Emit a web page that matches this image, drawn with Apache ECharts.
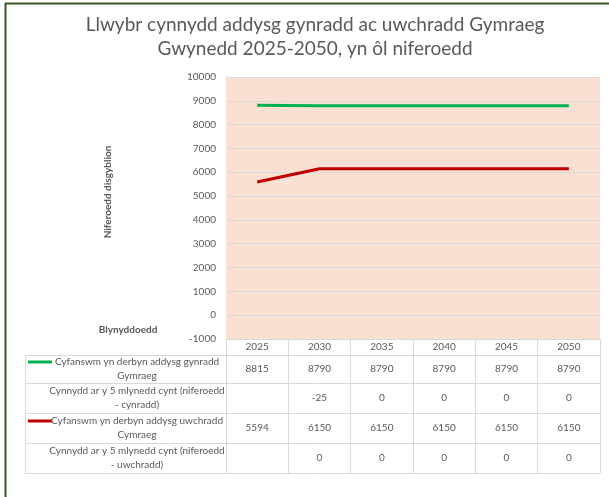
<!DOCTYPE html>
<html><head><meta charset="utf-8">
<script src="https://cdn.jsdelivr.net/npm/echarts@6/dist/echarts.min.js"></script>
<style>html,body{margin:0;padding:0;background:#fff}#c{width:609px;height:497px}</style>
</head><body><div id="c"></div>
<script>
// ---- data ----
const titleText = 'Llwybr cynnydd addysg gynradd ac uwchradd Gymraeg\nGwynedd 2025-2050, yn ôl niferoedd';
const yAxisTitle = 'Niferoedd disgyblion';
const xAxisTitle = 'Blynyddoedd';
const years = ['2025', '2030', '2035', '2040', '2045', '2050'];
const primaryName = 'Cyfanswm yn derbyn addysg gynradd\nGymraeg';
const primaryTotal = [8815, 8790, 8790, 8790, 8790, 8790];
const primaryChangeName = 'Cynnydd ar y 5 mlynedd cynt (niferoedd\n- cynradd)';
const primaryChange = [null, -25, 0, 0, 0, 0];
const secondaryName = 'Cyfanswm yn derbyn addysg uwchradd\nCymraeg';
const secondaryTotal = [5594, 6150, 6150, 6150, 6150, 6150];
const secondaryChangeName = 'Cynnydd ar y 5 mlynedd cynt (niferoedd\n- uwchradd)';
const secondaryChange = [null, 0, 0, 0, 0, 0];
const yMin = -1000, yMax = 10000, yInterval = 1000;

// ---- styles ----
const TXT = '#595959', GRIDC = '#D9D9D9', FONT = 'Lato, "Open Sans", sans-serif';
const GREEN = '#00B050', RED = '#C00000';

const chart = echarts.init(document.getElementById('c'), null, {renderer: 'canvas'});
const gridTop = 77, gridBottomY = 339, gridLeft = 226, gridRight = 600;
const rowEdges = [355, 383, 413, 443, 473];
const tableLeft = 25;

chart.setOption({
  animation: false,
  backgroundColor: '#fff',
  title: {
    text: titleText, left: 310, top: 8, textAlign: 'center',
    textStyle: {fontFamily: FONT, fontSize: 19, fontWeight: 'normal', color: TXT, lineHeight: 24}
  },
  grid: {left: gridLeft, right: 609 - gridRight, top: gridTop, bottom: 497 - gridBottomY,
         show: true, backgroundColor: '#FAE0D3', borderWidth: 0},
  xAxis: {
    type: 'category', data: years, boundaryGap: true,
    axisLine: {show: true, onZero: false, lineStyle: {color: GRIDC, width: 1}},
    axisTick: {show: true, interval: 0, alignWithLabel: false, length: rowEdges[4] - gridBottomY,
               lineStyle: {color: GRIDC, width: 1}},
    axisLabel: {margin: 3, fontSize: 10, color: TXT, fontFamily: FONT, interval: 0}
  },
  yAxis: {
    type: 'value', min: yMin, max: yMax, interval: yInterval,
    axisLine: {show: false}, axisTick: {show: false},
    splitLine: {lineStyle: {color: GRIDC, width: 1}},
    axisLabel: {margin: 10, fontSize: 10, color: TXT, fontFamily: FONT, formatter: v => String(v)}
  },
  series: [
    {type: 'line', name: 'primary', data: primaryTotal, symbol: 'none', z: 5,
     lineStyle: {color: GREEN, width: 3}},
    {type: 'line', name: 'secondary', data: secondaryTotal, symbol: 'none', z: 5,
     lineStyle: {color: RED, width: 3}}
  ]
});

// ---- data table & decorations ----
const g = [];
const line = (x1, y1, x2, y2, color, w) => g.push({type: 'line', silent: true, z: 10,
  shape: {x1, y1, x2, y2}, style: {stroke: color, lineWidth: w}});
const text = (x, y, t, opts) => g.push(Object.assign({type: 'text', silent: true, z: 11, x, y,
  style: Object.assign({text: t, fill: TXT, font: '10px ' + FONT, align: 'center',
    verticalAlign: 'middle', lineHeight: 14}, opts && opts.style || {})}, opts && opts.el || {}));

// frame
line(5.5, 3, 5.5, 497, '#385723', 2);
line(5, 3.5, 609, 3.5, '#385723', 2);

// horizontal table lines
rowEdges.forEach(y => line(tableLeft, y + 0.5, gridRight, y + 0.5, GRIDC, 1));
line(tableLeft + 0.5, rowEdges[0], tableLeft + 0.5, rowEdges[4], GRIDC, 1);

const rows = [
  {label: primaryName, vals: primaryTotal, key: GREEN},
  {label: primaryChangeName, vals: primaryChange},
  {label: secondaryName, vals: secondaryTotal, key: RED},
  {label: secondaryChangeName, vals: secondaryChange}
];
rows.forEach((r, i) => {
  const cy = (rowEdges[i] + rowEdges[i + 1]) / 2;
  text(137, cy, r.label);
  if (r.key) line(28, cy - 7, 52, cy - 7, r.key, 3);
  r.vals.forEach((v, j) => {
    if (v === null) return;
    const px = chart.convertToPixel({xAxisIndex: 0}, years[j]);
    text(px, cy, String(v));
  });
});

// axis titles
text(108, 192, yAxisTitle, {style: {font: 'bold 10px ' + FONT}, el: {rotation: Math.PI / 2}});
text(128, 330, xAxisTitle, {style: {font: 'bold 10px ' + FONT}});

chart.setOption({graphic: {elements: g}});
</script>
</body></html>
